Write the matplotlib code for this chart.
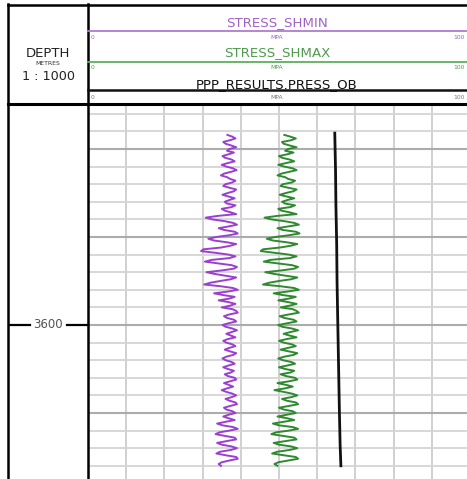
import numpy as np
import matplotlib
matplotlib.use("Agg")
import matplotlib.pyplot as plt

# log samples, 0.5 m step
depth = np.arange(3546, 3640.25, 0.5)

shmin = [
    36.5, 37.8, 38.6, 37.2, 35.4, 36.0, 37.5, 38.8, 37.0, 36.4, 38.2, 36.8,
    35.2, 35.9, 37.6, 38.4, 36.6, 35.0, 36.2, 38.0, 38.9, 37.4, 35.6, 34.8,
    36.4, 37.2, 38.6, 37.8, 36.0, 35.4, 37.0, 38.8, 38.2, 36.6, 35.2, 36.8,
    38.4, 37.0, 35.8, 36.4, 38.6, 37.6, 35.0, 35.8, 37.4, 38.8,
    34.0, 30.8, 32.5, 35.8, 38.0, 39.0, 36.8, 34.2, 35.6, 38.4, 39.2, 37.0,
    33.6, 31.5, 33.0, 36.4, 38.8, 37.2, 34.8, 30.2, 29.6, 33.4, 36.8, 38.6,
    37.0, 32.4, 30.6, 34.2, 37.6, 39.0, 38.2, 35.0, 31.0, 33.2, 36.0, 38.8,
    37.4, 34.6, 32.0, 30.4, 34.8, 38.0, 39.2, 36.6, 33.0, 35.4, 38.4, 37.0,
    34.2, 36.8, 38.6, 37.2, 35.0, 37.8,
    38.8, 39.2, 37.0, 35.6, 36.4, 38.2, 38.8, 36.8, 35.2, 36.0, 37.8, 39.0,
    37.6, 36.2, 37.4, 38.6, 36.6, 35.4, 36.2, 37.8, 38.6, 37.0, 35.8, 37.2,
    38.8, 38.0, 36.2, 35.2, 36.0, 37.6, 38.4, 36.8, 35.4, 36.6, 38.2, 37.4,
    35.8, 36.6, 38.4, 38.8, 37.2, 35.6, 36.8, 38.0, 36.4, 35.0, 36.2, 37.8,
    38.8, 37.6, 36.0, 37.0, 38.6, 39.0, 37.2, 35.6, 36.2, 37.8, 38.6, 36.8,
    35.4, 36.8,
    38.4, 36.0, 33.8, 35.2, 38.0, 39.2, 37.0, 34.4, 33.4, 35.8, 38.4, 38.8,
    36.2, 33.8, 35.0, 37.6, 39.0, 37.4, 34.6, 33.6, 36.0, 38.8, 39.2, 37.0,
    35.0, 34.2, 34.8,
]

shmax = [
    51.4, 53.0, 54.4, 53.2, 50.8, 51.2, 52.8, 54.6, 52.4, 51.6, 53.8, 52.2,
    50.0, 50.8, 52.8, 54.0, 51.8, 49.8, 51.4, 53.6, 54.6, 52.6, 50.6, 49.6,
    51.6, 52.4, 54.2, 53.4, 51.0, 50.4, 52.4, 54.6, 53.8, 51.8, 50.2, 52.0,
    54.0, 52.2, 50.8, 51.6, 54.2, 53.0, 49.8, 50.6, 52.8, 54.6,
    49.6, 46.2, 48.0, 51.4, 54.0, 55.2, 52.4, 49.6, 51.0, 54.4, 55.4, 52.6,
    49.0, 46.8, 48.4, 52.0, 54.8, 53.0, 50.2, 45.8, 45.2, 49.0, 52.6, 54.6,
    52.8, 47.8, 46.0, 49.8, 53.4, 55.0, 54.0, 50.6, 46.4, 48.8, 51.8, 54.8,
    53.2, 50.0, 47.4, 45.8, 50.4, 54.0, 55.2, 52.2, 48.6, 51.0, 54.4, 52.6,
    49.8, 52.4, 54.6, 52.8, 50.4, 53.6,
    54.6, 55.2, 52.6, 50.2, 51.4, 53.8, 54.6, 52.2, 49.8, 50.8, 53.4, 55.0,
    53.0, 51.2, 52.8, 54.6, 52.0, 50.0, 51.2, 53.4, 54.4, 52.4, 50.4, 52.6,
    54.8, 53.8, 51.4, 49.8, 51.0, 53.2, 54.2, 52.2, 50.0, 51.6, 54.0, 53.0,
    50.4, 51.8, 54.2, 54.8, 52.6, 49.6, 51.8, 53.6, 51.6, 48.8, 51.2, 53.4,
    54.8, 53.2, 50.8, 52.0, 54.4, 55.0, 52.6, 50.0, 51.2, 53.6, 54.4, 52.0,
    49.6, 52.2,
    54.0, 51.2, 48.4, 50.0, 53.6, 55.0, 52.6, 49.2, 48.0, 51.0, 54.0, 54.6,
    51.6, 48.6, 50.0, 53.2, 54.8, 52.8, 49.6, 48.2, 51.2, 54.4, 55.0, 52.4,
    49.8, 48.8, 49.6,
]

ob_depth = [3545.5, 3556, 3566, 3577, 3588, 3600, 3612, 3624, 3634, 3640]
press_ob = [64.6, 64.8, 64.9, 65.1, 65.2, 65.4, 65.6, 65.8, 66.0, 66.2]

curves = [
    ("STRESS_SHMIN", "#b07ad0", "#a062c4", 30.5, 22.5, 37, 1.3),
    ("STRESS_SHMAX", "#5cb05c", "#4f9a4f", 61.5, 53, 67, 1.3),
    ("PPP_RESULTS.PRESS_OB", "#111111", "#111111", 89.5, 85, 97, 1.8),
]

W, H = 467, 479
top_d, bot_d = 3537.5, 3643.75

fig = plt.figure(figsize=(W / 100, H / 100), dpi=100)

# main track
ax = fig.add_axes([88 / W, 0, 382 / W, (H - 105) / H])
ax.set_xlim(0, 100)
ax.set_ylim(bot_d, top_d)
for x in range(10, 100, 10):
    ax.axvline(x, color="#d0d0d0", lw=1.4, zorder=1)
for d in np.arange(3540, 3645, 5):
    if d % 25 == 0:
        ax.axhline(d, color="#acacac", lw=1.5, zorder=1)
    else:
        ax.axhline(d, color="#d4d4d4", lw=1.3, zorder=1)
ax.plot(shmin, depth, color="#9b3fd0", lw=1.4, zorder=3,
        solid_joinstyle="round")
ax.plot(shmax, depth, color="#2f8a2f", lw=1.4, zorder=3,
        solid_joinstyle="round")
ax.plot(press_ob, ob_depth, color="#111111", lw=2.0, zorder=3)
ax.set_xticks([])
ax.set_yticks([])
for s in ax.spines.values():
    s.set_visible(False)

# depth column
axd = fig.add_axes([8 / W, 0, 80 / W, (H - 105) / H])
axd.set_xlim(0, 80)
axd.set_ylim(bot_d, top_d)
axd.axis("off")
axd.text(40, 3600, "3600", ha="center", va="center", fontsize=8.5,
         color="#555555")
axd.plot([0, 22], [3600, 3600], color="black", lw=1.6)
axd.plot([59, 80], [3600, 3600], color="black", lw=1.6)

# header and frame, in pixel coordinates
ov = fig.add_axes([0, 0, 1, 1], zorder=5)
ov.set_xlim(0, W)
ov.set_ylim(H, 0)
ov.axis("off")
ov.patch.set_alpha(0)

ov.plot([8, 8], [4, H], color="black", lw=1.8)
ov.plot([88, 88], [4, H], color="black", lw=1.8)
ov.plot([8, W], [4.5, 4.5], color="black", lw=1.8)
ov.plot([8, W], [104, 104], color="black", lw=2.2)

ov.text(48, 53, "DEPTH", ha="center", va="center", fontsize=9.5,
        color="#222222")
ov.text(48, 63.5, "METRES", ha="center", va="center", fontsize=4.4,
        color="#333333")
ov.text(48, 76, "1 : 1000", ha="center", va="center", fontsize=9.2,
        color="#222222")

for name, hc, tc, ly, ty, sy, lw in curves:
    ov.plot([88, W], [ly, ly], color=hc, lw=lw)
    ov.text(277, ty, name, ha="center", va="center", fontsize=9.6, color=tc)
    sc = "#777777" if tc == "#111111" else tc
    ov.text(91, sy, "0", ha="left", va="center", fontsize=4.3, color=sc)
    ov.text(277, sy, "MPA", ha="center", va="center", fontsize=4.3, color=sc)
    ov.text(465, sy, "100", ha="right", va="center", fontsize=4.3, color=sc)

fig.savefig("out.png", dpi=100)
